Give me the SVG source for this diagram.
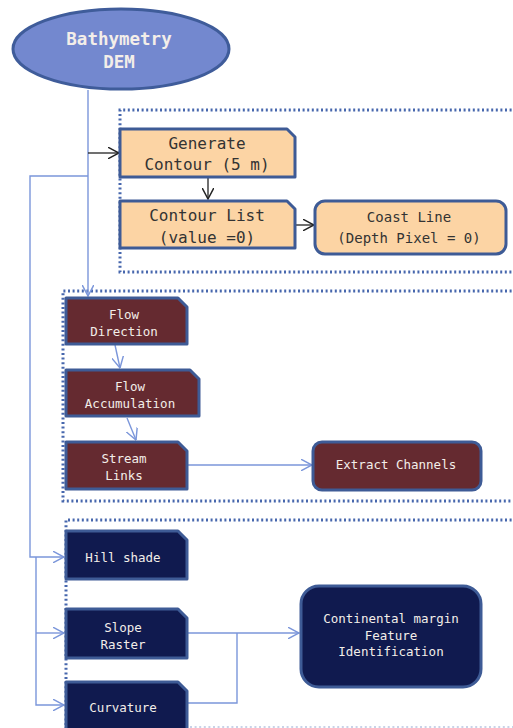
<svg xmlns="http://www.w3.org/2000/svg" width="513" height="728" viewBox="0 0 513 728">
  <style>
    .grp { fill: none; stroke: #4767ad; stroke-width: 3; stroke-dasharray: 2 2.6; }
    .box { stroke: #3e5b96; stroke-width: 3; stroke-linejoin: round; }
    .orange { fill: #fcd4a4; }
    .maroon { fill: #652a30; }
    .navy { fill: #101a4f; }
    .t { font-family: "DejaVu Sans Mono", "Liberation Mono", monospace; text-anchor: middle; }
    .dark { fill: #333333; }
    .light { fill: #f3eee9; }
    .blue { fill: none; stroke: #7b96da; stroke-width: 1.4; }
    .black { fill: none; stroke: #222222; stroke-width: 1.3; }
  </style>
  <defs>
    <marker id="ahBlue" viewBox="0 0 10 10" refX="9.5" refY="5" markerWidth="12" markerHeight="12" markerUnits="userSpaceOnUse" orient="auto">
      <path d="M0,0 L9.5,5 L0,10" fill="none" stroke="#7b96da" stroke-width="1.2"/>
    </marker>
    <marker id="ahBlack" viewBox="0 0 10 10" refX="9.5" refY="5" markerWidth="12" markerHeight="12" markerUnits="userSpaceOnUse" orient="auto">
      <path d="M0,0 L9.5,5 L0,10" fill="none" stroke="#222222" stroke-width="1.2"/>
    </marker>
  </defs>

  <!-- dotted group frames -->
  <g id="frames">
    <path class="grp" d="M530,110 H120 V272 H530"/>
    <path class="grp" d="M530,291 H63 V501 H530"/>
    <path class="grp" d="M530,520 H66 V728"/>
    <path d="M190,727 H513" fill="none" stroke="#b8c4e0" stroke-width="1.5" stroke-dasharray="2 2.6"/>
  </g>

  <!-- connectors -->
  <g id="connectors">
    <path class="blue" d="M88,90 V296" marker-end="url(#ahBlue)"/>
    <path class="black" d="M88,153 H119" marker-end="url(#ahBlack)"/>
    <path class="black" d="M208,177 V199" marker-end="url(#ahBlack)"/>
    <path class="black" d="M295,225 H314" marker-end="url(#ahBlack)"/>
    <path class="blue" d="M88,176 H30 V557 H64" marker-end="url(#ahBlue)"/>
    <path class="blue" d="M36,557 V705 H64" marker-end="url(#ahBlue)"/>
    <path class="blue" d="M36,633 H64" marker-end="url(#ahBlue)"/>
    <path class="blue" d="M115,345 L120,368" marker-end="url(#ahBlue)"/>
    <path class="blue" d="M127,418 L136,440" marker-end="url(#ahBlue)"/>
    <path class="blue" d="M188,465 H312" marker-end="url(#ahBlue)"/>
    <path class="blue" d="M188,633 H299" marker-end="url(#ahBlue)"/>
    <path class="blue" d="M188,703 H237 V633"/>
  </g>

  <!-- source -->
  <g id="bathymetry-dem">
    <ellipse cx="121" cy="49" rx="108" ry="40" fill="#7388cf" stroke="#3f5c9a" stroke-width="3"/>
    <text class="t light" x="119" y="45" font-size="17.5" font-weight="bold">Bathymetry</text>
    <text class="t light" x="119" y="68" font-size="17.5" font-weight="bold">DEM</text>
  </g>

  <!-- contour branch -->
  <g id="generate-contour">
    <path class="box orange" d="M120,129 H287 L295,137 V177 H120 Z"/>
    <text class="t dark" x="207" y="149" font-size="16">Generate</text>
    <text class="t dark" x="207" y="170" font-size="16">Contour (5 m)</text>
  </g>
  <g id="contour-list">
    <path class="box orange" d="M120,201 H287 L295,209 V248 H120 Z"/>
    <text class="t dark" x="207" y="221" font-size="16">Contour List</text>
    <text class="t dark" x="207" y="243" font-size="16">(value =0)</text>
  </g>
  <g id="coast-line">
    <rect class="box orange" x="315" y="201" width="191" height="53" rx="10"/>
    <text class="t dark" x="409" y="222" font-size="14">Coast Line</text>
    <text class="t dark" x="409" y="243" font-size="14">(Depth Pixel = 0)</text>
  </g>

  <!-- drainage branch -->
  <g id="flow-direction">
    <path class="box maroon" d="M66,298 H178 L187,307 V344 H66 Z"/>
    <text class="t light" x="124" y="319" font-size="12.5">Flow</text>
    <text class="t light" x="124" y="336" font-size="12.5">Direction</text>
  </g>
  <g id="flow-accumulation">
    <path class="box maroon" d="M66,370 H190 L199,379 V416 H66 Z"/>
    <text class="t light" x="130" y="391" font-size="12.5">Flow</text>
    <text class="t light" x="130" y="408" font-size="12.5">Accumulation</text>
  </g>
  <g id="stream-links">
    <path class="box maroon" d="M66,442 H178 L187,451 V489 H66 Z"/>
    <text class="t light" x="124" y="463" font-size="12.5">Stream</text>
    <text class="t light" x="124" y="480" font-size="12.5">Links</text>
  </g>
  <g id="extract-channels">
    <rect class="box maroon" x="313" y="442" width="168" height="48" rx="9"/>
    <text class="t light" x="396" y="469" font-size="12.5">Extract Channels</text>
  </g>

  <!-- terrain branch -->
  <g id="hill-shade">
    <path class="box navy" d="M66,531 H178 L187,540 V579 H66 Z"/>
    <text class="t light" x="123" y="562" font-size="12.5">Hill shade</text>
  </g>
  <g id="slope-raster">
    <path class="box navy" d="M66,609 H178 L187,618 V658 H66 Z"/>
    <text class="t light" x="123" y="632" font-size="12.5">Slope</text>
    <text class="t light" x="123" y="649" font-size="12.5">Raster</text>
  </g>
  <g id="curvature">
    <path class="box navy" d="M66,682 H178 L187,691 V730 H66 Z"/>
    <text class="t light" x="123" y="712" font-size="12.5">Curvature</text>
  </g>
  <g id="continental-margin">
    <rect class="box navy" x="301" y="586" width="180" height="101" rx="18"/>
    <text class="t light" x="391" y="623" font-size="12.5">Continental margin</text>
    <text class="t light" x="391" y="640" font-size="12.5">Feature</text>
    <text class="t light" x="391" y="656" font-size="12.5">Identification</text>
  </g>
</svg>
